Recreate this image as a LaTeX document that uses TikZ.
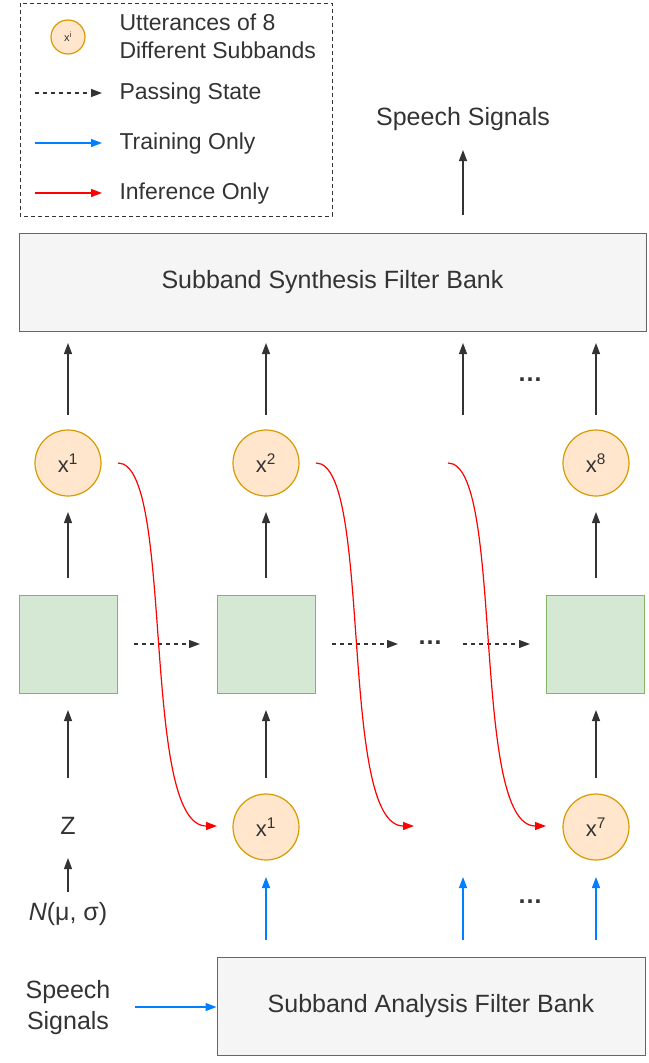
\documentclass[tikz,border=0pt]{standalone}
\usepackage{fontspec}
\setmainfont{Liberation Sans}
\usetikzlibrary{arrows.meta}
\definecolor{boxgray}{HTML}{F5F5F5}
\definecolor{linegray}{HTML}{666666}
\definecolor{subfill}{HTML}{FFE6CC}
\definecolor{subline}{HTML}{D79B00}
\definecolor{cellfill}{HTML}{D5E8D4}
\definecolor{cellline}{HTML}{82B366}
\definecolor{trainblue}{HTML}{007FFF}
\definecolor{darktext}{HTML}{333333}
\tikzset{
  every node/.style={text=darktext,font=\fontsize{25}{31}\selectfont},
  legend/.style={anchor=west,font=\fontsize{23}{28}\selectfont},
  bank/.style={draw=linegray,fill=boxgray,line width=1pt,minimum height=98pt},
  cell/.style={draw=cellline,fill=cellfill,line width=1pt,minimum size=98pt},
  sub/.style={circle,draw=subline,fill=subfill,line width=1.2pt,minimum size=66pt,inner sep=0pt,
    font=\fontsize{22}{26}\selectfont},
  up/.style={-{Triangle[length=11pt,width=8pt]},line width=1.2pt,draw=darktext},
  pass/.style={up,dash pattern=on 4pt off 4pt},
  train/.style={up,draw=trainblue},
  infer/.style={-{Triangle[length=11pt,width=8pt]},line width=1.2pt,draw=red},
}
\newcommand{\sx}[1]{x\textsuperscript{#1}}
\begin{document}
\begin{tikzpicture}[x=1pt,y=-1pt]
  \useasboundingbox (0,0) rectangle (648,1063);
  % legend
  \draw[dash pattern=on 4pt off 3pt,line width=1pt,draw=darktext] (20,3) rectangle (332,216);
  \node[sub,minimum size=34pt,font=\fontsize{11}{11}\selectfont] (lsub) at (68,37) {\sx{i}};
  \node[legend,align=left] (ltext) at (116,36) {Utterances of 8\\Different Subbands};
  \draw[pass] (35,93) -- (102,93);
  \draw[train] (35,143) -- (102,143);
  \draw[infer] (35,193) -- (102,193);
  \node[legend] (lpass) at (116,94) {Passing State};
  \node[legend] (ltrain) at (116,144) {Training Only};
  \node[legend] (linfer) at (116,194) {Inference Only};
  % output
  \node (speechout) at (463,119) {Speech Signals};
  \node[bank,minimum width=627pt] (synth) at (332.5,282) {Subband Synthesis Filter Bank};
  \draw[up] (speechout |- 0,215) -- (speechout |- 0,150);
  % subband outputs
  \node[sub] (y1) at (68,463) {\sx{1}};
  \node[sub] (y2) at (266,463) {\sx{2}};
  \node[sub] (y8) at (596,463) {\sx{8}};
  \coordinate (y3) at (463,415);
  \node (dotstop) at (530,380) {\textbf{\dots}};
  \foreach \n in {y1,y2,y3,y8} {
    \draw[up] (\n |- 0,415) -- (\n |- 0,343);
  }
  % cells
  \node[cell] (c1) at (68.5,644) {};
  \node[cell] (c2) at (266.5,644) {};
  \node[cell] (c8) at (595.5,644) {};
  \node (dotsmid) at (430,643) {\textbf{\dots}};
  \foreach \n in {1,2,8} {
    \draw[up] (y\n |- 0,578) -- (y\n |- 0,512);
  }
  \draw[pass] (134,644) -- (200,644);
  \draw[pass] (332,644) -- (398,644);
  \draw[pass] (463,644) -- (530,644);
  % inputs
  \node (z) at (68,826) {Z};
  \node[sub] (x1) at (266,827) {\sx{1}};
  \coordinate (x2) at (463,827);
  \node[sub] (x7) at (596,827) {\sx{7}};
  \node (noise) at (68,914) {\textit{N}(μ, σ)};
  \node (dotsbot) at (530,902) {\textbf{\dots}};
  \foreach \n in {z,x1,x7} {
    \draw[up] (\n |- 0,778) -- (\n |- 0,710);
  }
  \draw[up] (noise |- 0,892) -- (noise |- 0,858);
  % inference feedback
  \draw[infer] (118,463) .. controls (175,463) and (140,826) .. (217,826);
  \draw[infer] (316,463) .. controls (373,463) and (338,826) .. (414,826);
  \draw[infer] (448,463) .. controls (505,463) and (470,826) .. (546,826);
  % analysis
  \node[bank,minimum width=428pt] (anal) at (431,1006) {Subband Analysis Filter Bank};
  \node[align=center] (speechin) at (68,1008) {Speech\\Signals};
  \draw[train] (135,1007) -- (anal.west |- 0,1007);
  \foreach \n in {x1,x2,x7} {
    \draw[train] (\n |- 0,940) -- (\n |- 0,877);
  }
\end{tikzpicture}
\end{document}
